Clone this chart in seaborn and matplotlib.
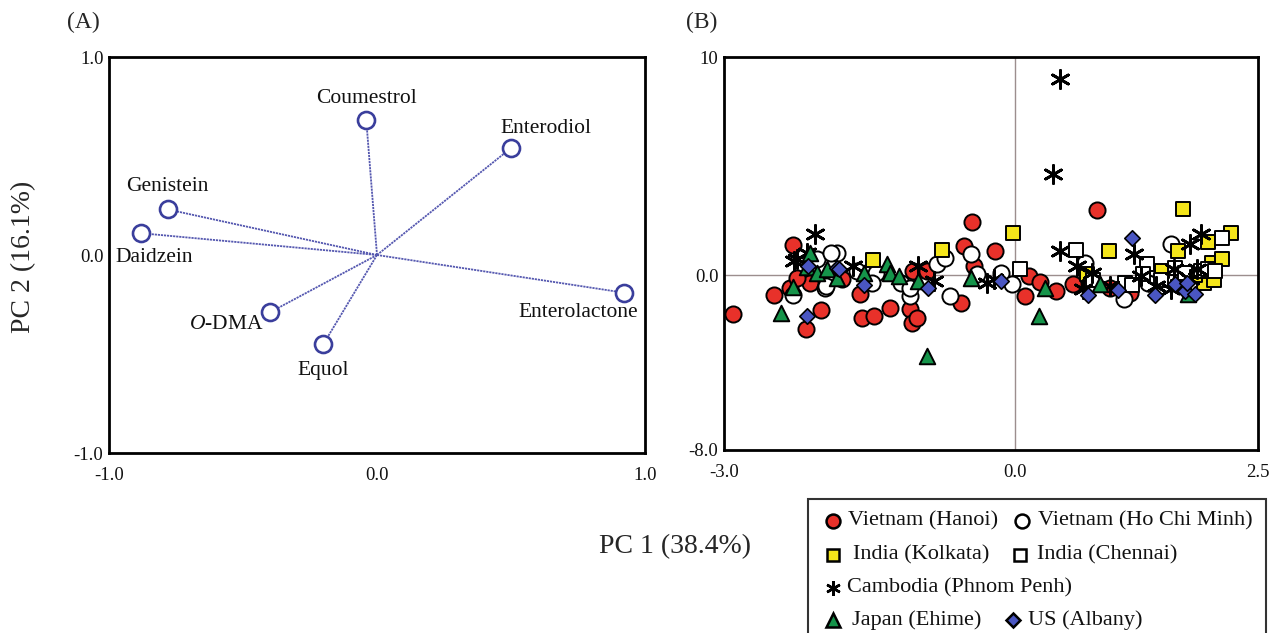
import matplotlib
matplotlib.use("Agg")
import matplotlib.pyplot as plt
import seaborn as sns
from matplotlib.lines import Line2D
from matplotlib.patches import Rectangle

# ---------------- Panel A: loadings ----------------
compounds = ["Coumestrol", "Enterodiol", "Genistein", "Daidzein",
             "Enterolactone", r"$\mathit{O}$-DMA", "Equol"]
load_pc1 = [-0.04, 0.50, -0.78, -0.88, 0.92, -0.40, -0.20]
load_pc2 = [0.68, 0.54, 0.23, 0.11, -0.19, -0.29, -0.45]

# ---------------- Panel B: scores ----------------
hanoi_x = [-2.91, -2.49, -2.29, -2.32, -2.16, -2.00, -2.11, -1.78, -1.60, -1.58,
           -1.46, -1.29, -1.08, -1.06, -1.01, -1.05, -0.91, -0.56, -0.53, -0.45,
           -0.43, -0.21, 0.10, 0.14, 0.25, 0.42, 0.59, 0.84, 0.98, 1.18, -2.25]
hanoi_y = [-1.76, -0.92, 1.38, -0.56, -2.48, -1.59, -0.34, -0.18, -0.87, -1.94,
           -1.87, -1.48, -1.56, -2.17, -1.94, 0.20, 0.20, -1.25, 1.34, 2.42,
           0.43, 1.12, -0.95, -0.03, -0.31, -0.72, -0.41, 2.98, -0.56, -0.79, -0.10]

hcm_x = [-2.29, -1.96, -1.84, -2.04, -1.90, -1.63, -1.43, -1.48, -1.18, -1.08,
         -1.08, -0.81, -0.72, -0.67, -0.46, -0.39, -0.15, -0.03, 0.72, 1.12,
         1.37, 1.60, 1.70, 1.95, -1.95]
hcm_y = [-0.92, -0.56, 1.04, 0.73, 1.04, 0.20, 0.12, -0.34, -0.34, -0.95,
         -0.60, 0.50, 0.81, -0.95, 0.96, 0.05, 0.12, -0.41, 0.58, -1.10,
         -0.34, 1.42, -0.30, -0.10, -0.49]

kolkata_x = [-1.47, -0.75, -0.02, 0.74, 0.97, 1.51, 1.68, 1.73, 1.94, 1.99,
             2.03, 2.13, 2.22, 1.85, 2.05]
kolkata_y = [0.70, 1.15, 1.96, 0.05, 1.12, 0.20, 1.12, 3.03, -0.34, 1.53,
             0.58, 0.77, 1.93, 0.00, -0.20]

chennai_x = [0.05, 0.63, 1.13, 1.36, 1.32, 1.65, 1.91, 1.99, 2.06, 2.13,
             1.50, 1.75, 1.20, 0.80]
chennai_y = [0.28, 1.16, -0.34, 0.50, 0.05, 0.35, 0.20, 0.28, 0.20, 1.73,
             -0.20, 0.10, -0.45, -0.20]

cambodia_x = [-2.28, -2.25, -2.14, -2.06, -1.67, -1.00, -0.84, -0.29, -0.22, 0.46,
              0.39, 0.46, 0.64, 0.79, 0.70, 0.98, 1.22, 1.30, 1.60, 1.63,
              1.80, 1.91, 1.80, 1.87, 1.45]
cambodia_y = [0.66, 0.73, 1.04, 1.88, 0.43, 0.43, -0.26, -0.34, -0.18, 8.99,
              4.63, 1.12, 0.43, 0.12, -0.64, -0.49, 0.96, -0.03, -0.64, 0.28,
              1.42, 1.88, -0.18, 0.28, -0.50]

japan_x = [-2.41, -2.29, -2.14, -2.11, -2.04, -1.94, -1.84, -1.56, -1.32, -1.29,
           -1.20, -1.00, -0.91, -0.46, 0.24, 0.31, 0.87, 1.78]
japan_y = [-1.71, -0.52, 0.36, 1.04, 0.12, 0.28, -0.11, 0.12, 0.50, 0.12,
           -0.03, -0.26, -3.71, -0.11, -1.87, -0.56, -0.41, -0.87]

us_x = [-2.15, -2.13, -1.84, -1.82, -1.56, -0.90, -0.15, 0.75, 1.06, 1.20,
        1.44, 1.65, 1.75, 1.85, 1.77]
us_y = [-1.87, 0.43, 0.35, 0.31, -0.43, -0.56, -0.26, -0.92, -0.67, 1.73,
        -0.92, -0.41, -0.72, -0.87, -0.34]

group_labels = ["Vietnam (Hanoi)", "Vietnam (Ho Chi Minh)", "India (Kolkata)",
                "India (Chennai)", "Cambodia (Phnom Penh)", "Japan (Ehime)",
                "US (Albany)"]

xticks_A = [-1.0, 0.0, 1.0]
xtick_labels_A = ["-1.0", "0.0", "1.0"]
xticks_B = [-3.0, 0.0, 2.5]
xtick_labels_B = ["-3.0", "0.0", "2.5"]
yticks_B = [-8.0, 0.0, 10.0]
ytick_labels_B = ["-8.0", "0.0", "10"]

# ---------------- style ----------------
sns.set_style("white")
plt.rcParams["font.family"] = ["Liberation Serif", "DejaVu Serif"]
plt.rcParams["mathtext.fontset"] = "custom"
plt.rcParams["mathtext.rm"] = "Liberation Serif"
plt.rcParams["mathtext.it"] = "Liberation Serif:italic"

W, H = 1276, 633
fig = plt.figure(figsize=(W / 100, H / 100), dpi=100)
fig.patch.set_facecolor("white")

axA = fig.add_axes([109 / W, 1 - 453 / H, 536 / W, 396 / H])
axB = fig.add_axes([724 / W, 1 - 450 / H, 534 / W, 393 / H])

# ---------------- Panel A ----------------
vec_color = "#5558b0"
for x, y in zip(load_pc1, load_pc2):
    axA.plot([0, x], [0, y], color=vec_color, lw=1.3, ls=(0, (1.2, 0.5)), zorder=2)
sns.scatterplot(x=load_pc1, y=load_pc2, ax=axA, s=150, marker="o",
                facecolor="white", edgecolor="#3a3e9c", linewidth=1.9, zorder=3)

label_offsets_px = {
    "Coumestrol": (0, 22), "Enterodiol": (35, 20), "Genistein": (-1, 23),
    "Daidzein": (13, -24), "Enterolactone": (-45, -20),
    r"$\mathit{O}$-DMA": (-43, -12), "Equol": (0, -26),
}
for name, x, y in zip(compounds, load_pc1, load_pc2):
    dx, dy = label_offsets_px[name]
    axA.annotate(name, (x, y), xytext=(dx * 0.72, dy * 0.72),
                 textcoords="offset points", ha="center", va="center",
                 fontsize=15.5, color="#111111")

axA.set_xlim(-1.0, 1.0)
axA.set_ylim(-1.0, 1.0)
axA.set_xticks(xticks_A)
axA.set_xticklabels(xtick_labels_A)
axA.set_yticks(xticks_A)
axA.set_yticklabels(xtick_labels_A)
axA.tick_params(axis="x", direction="in", length=7, width=1, pad=10,
                labelsize=13.5, colors="#111111")
axA.tick_params(axis="y", length=0, pad=4, labelsize=13.5, colors="#111111")

# ---------------- Panel B ----------------
axB.axhline(0, color="#9c8e8e", lw=1.0, zorder=1)
axB.axvline(0, color="#9c8e8e", lw=1.0, zorder=1)

sns.scatterplot(x=hanoi_x, y=hanoi_y, ax=axB, marker="o", s=135,
                color="#e8312a", edgecolor="black", linewidth=1.4, zorder=3)
sns.scatterplot(x=hcm_x, y=hcm_y, ax=axB, marker="o", s=135,
                color="white", edgecolor="black", linewidth=1.4, zorder=3)
sns.scatterplot(x=kolkata_x, y=kolkata_y, ax=axB, marker="s", s=105,
                color="#f4e51a", edgecolor="black", linewidth=1.4, zorder=3)
sns.scatterplot(x=chennai_x, y=chennai_y, ax=axB, marker="s", s=105,
                color="white", edgecolor="black", linewidth=1.4, zorder=3)
sns.scatterplot(x=cambodia_x, y=cambodia_y, ax=axB, marker=(6, 2, 0), s=170,
                color="black", edgecolor="black", linewidth=2.0, zorder=4)
sns.scatterplot(x=japan_x, y=japan_y, ax=axB, marker="^", s=125,
                color="#15944a", edgecolor="black", linewidth=1.4, zorder=4)
sns.scatterplot(x=us_x, y=us_y, ax=axB, marker="D", s=62,
                color="#4a56c2", edgecolor="black", linewidth=1.2, zorder=5)

axB.set_xlim(-3.0, 2.5)
axB.set_ylim(-8.0, 10.0)
axB.set_xticks(xticks_B)
axB.set_xticklabels(xtick_labels_B)
axB.set_yticks(yticks_B)
axB.set_yticklabels(ytick_labels_B)
axB.tick_params(axis="x", length=0, pad=10, labelsize=13.5, colors="#111111")
axB.tick_params(axis="y", length=0, pad=4, labelsize=13.5, colors="#111111")

for ax in (axA, axB):
    ax.set_xlabel("")
    ax.set_ylabel("")
    for sp in ax.spines.values():
        sp.set_visible(True)
        sp.set_color("black")
        sp.set_linewidth(2.0)

# ---------------- texts ----------------
fig.text(83 / W, 1 - 22 / H, "(A)", ha="center", va="center", fontsize=17)
fig.text(702 / W, 1 - 22 / H, "(B)", ha="center", va="center", fontsize=17)
fig.text(24 / W, 1 - 257 / H, "PC 2 (16.1%)", rotation=90, ha="center",
         va="center", fontsize=20)
fig.text(675 / W, 1 - 547 / H, "PC 1 (38.4%)", ha="center", va="center",
         fontsize=20)

# ---------------- legend (manual layout) ----------------
leg_styles = [
    dict(marker="o", markerfacecolor="#e8312a", markersize=10),
    dict(marker="o", markerfacecolor="white", markersize=10),
    dict(marker="s", markerfacecolor="#f4e51a", markersize=8),
    dict(marker="s", markerfacecolor="white", markersize=8),
    dict(marker=(6, 2, 0), markerfacecolor="black", markersize=10.5),
    dict(marker="^", markerfacecolor="#15944a", markersize=9.5),
    dict(marker="D", markerfacecolor="#4a56c2", markersize=7.5),
]
leg_pos = [(833, 848, 521), (1022, 1038, 521), (833, 853, 555), (1020, 1037, 555),
           (833, 847, 588), (833, 852, 620), (1013, 1028, 620)]
for lab, st, (mx, tx, ry) in zip(group_labels, leg_styles, leg_pos):
    fig.add_artist(Line2D([mx / W], [1 - ry / H], transform=fig.transFigure,
                          linestyle="none", markeredgecolor="black",
                          markeredgewidth=1.8, **st))
    fig.text(tx / W, 1 - ry / H, lab, ha="left", va="center", fontsize=16,
             color="#111111")

fig.add_artist(Rectangle((808 / W, -0.05), (1266 - 808) / W, 0.05 + (633 - 499) / H,
                         transform=fig.transFigure, fill=False,
                         edgecolor="#333333", lw=1.5, clip_on=False))

fig.savefig("out.png", dpi=100, facecolor="white")
